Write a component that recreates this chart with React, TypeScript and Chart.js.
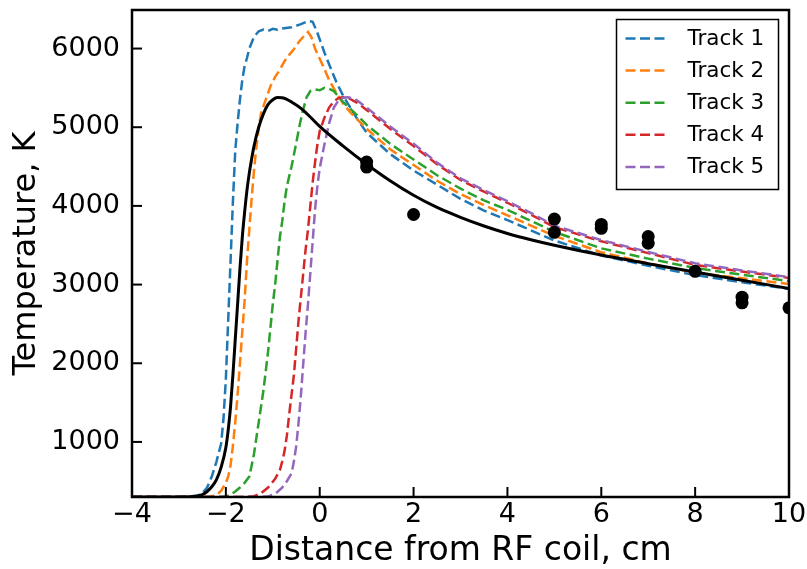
import React, { useEffect, useRef } from 'react';
import { Chart, registerables } from 'chart.js';

Chart.register(...registerables);

const X_TICKS = [-4, -2, 0, 2, 4, 6, 8, 10];
const Y_TICKS = [1000, 2000, 3000, 4000, 5000, 6000];

// Model (solid black line)
const modelX = [-4, -3, -2.7, -2.5, -2.4, -2.3, -2.2, -2.1, -2.0, -1.95, -1.9, -1.85, -1.8, -1.75, -1.7, -1.65, -1.6, -1.55, -1.5, -1.45, -1.4, -1.3, -1.2, -1.1, -1.0, -0.9, -0.8, -0.7, -0.6, -0.4, -0.2, 0, 0.5, 1.0, 1.5, 2.0, 2.5, 3.0, 3.5, 4.0, 4.5, 5.0, 6.0, 7.0, 8.0, 9.0, 10];
const modelY = [300, 301, 305, 330, 370, 430, 520, 680, 930, 1150, 1450, 1850, 2300, 2750, 3200, 3600, 3920, 4200, 4420, 4600, 4760, 5000, 5170, 5290, 5350, 5378, 5375, 5355, 5320, 5240, 5130, 5010, 4760, 4530, 4320, 4135, 3980, 3855, 3745, 3650, 3570, 3500, 3375, 3265, 3160, 3055, 2950];

const track1X = [-4, -3, -2.8, -2.6, -2.5, -2.4, -2.3, -2.2, -2.1, -2.05, -2.0, -1.95, -1.9, -1.85, -1.8, -1.75, -1.7, -1.65, -1.6, -1.55, -1.5, -1.4, -1.3, -1.2, -1.1, -1.0, -0.9, -0.8, -0.6, -0.4, -0.25, -0.15, -0.05, 0.1, 0.2, 0.35, 0.5, 0.75, 1.0, 1.5, 2.0, 2.5, 3.0, 3.5, 4.0, 4.5, 5.0, 6.0, 7.0, 8.0, 9.0, 10];
const track1Y = [300, 300, 305, 320, 350, 420, 560, 750, 980, 1300, 1800, 2550, 3300, 4050, 4700, 5050, 5350, 5600, 5780, 5880, 6000, 6150, 6220, 6240, 6225, 6250, 6240, 6255, 6270, 6310, 6350, 6340, 6200, 5950, 5800, 5580, 5400, 5150, 4930, 4660, 4450, 4270, 4090, 3940, 3820, 3690, 3560, 3370, 3240, 3120, 3030, 2945];

const track2X = [-4, -2.5, -2.35, -2.2, -2.1, -2.0, -1.95, -1.9, -1.85, -1.8, -1.75, -1.7, -1.65, -1.6, -1.55, -1.5, -1.45, -1.4, -1.35, -1.3, -1.25, -1.15, -1.05, -0.95, -0.85, -0.75, -0.65, -0.55, -0.45, -0.35, -0.25, -0.18, -0.1, 0.0, 0.1, 0.2, 0.35, 0.5, 0.65, 1.0, 1.5, 2.0, 2.5, 3.0, 3.5, 4.0, 4.5, 5.0, 6.0, 7.0, 8.0, 9.0, 10];
const track2Y = [300, 300, 305, 320, 380, 480, 560, 700, 950, 1250, 1600, 2000, 2400, 2800, 3300, 3700, 4100, 4450, 4750, 4980, 5180, 5350, 5520, 5640, 5730, 5840, 5920, 5990, 6080, 6150, 6210, 6150, 6000, 5870, 5740, 5600, 5440, 5300, 5190, 4980, 4720, 4520, 4320, 4150, 4010, 3880, 3750, 3620, 3410, 3270, 3150, 3080, 3008];

const track3X = [-4, -2.2, -2.0, -1.9, -1.8, -1.7, -1.6, -1.5, -1.45, -1.4, -1.35, -1.3, -1.25, -1.2, -1.15, -1.1, -1.05, -1.0, -0.95, -0.9, -0.85, -0.8, -0.75, -0.7, -0.6, -0.5, -0.42, -0.35, -0.28, -0.2, -0.1, 0.0, 0.1, 0.2, 0.3, 0.5, 0.75, 1.0, 1.5, 2.0, 2.5, 3.0, 3.5, 4.0, 4.5, 5.0, 6.0, 7.0, 8.0, 9.0, 10];
const track3Y = [300, 300, 305, 330, 370, 420, 480, 560, 700, 850, 1050, 1250, 1450, 1650, 1900, 2150, 2450, 2750, 3000, 3300, 3600, 3800, 4050, 4250, 4500, 4800, 5050, 5230, 5380, 5460, 5480, 5470, 5500, 5490, 5460, 5320, 5180, 5030, 4790, 4590, 4390, 4220, 4070, 3950, 3810, 3670, 3460, 3330, 3210, 3125, 3045];

const track4X = [-4, -1.6, -1.4, -1.27, -1.1, -0.95, -0.85, -0.8, -0.75, -0.7, -0.65, -0.6, -0.55, -0.5, -0.45, -0.4, -0.35, -0.3, -0.25, -0.2, -0.15, -0.1, -0.05, 0.0, 0.1, 0.2, 0.3, 0.4, 0.5, 0.6, 0.8, 1.0, 1.5, 2.0, 2.5, 3.0, 3.5, 4.0, 4.5, 5.0, 6.0, 7.0, 8.0, 9.0, 10];
const track4Y = [300, 300, 310, 340, 420, 530, 640, 750, 880, 1080, 1350, 1600, 1850, 2200, 2550, 2850, 3150, 3450, 3700, 4000, 4300, 4550, 4780, 4950, 5120, 5250, 5330, 5370, 5385, 5375, 5310, 5220, 4980, 4760, 4530, 4330, 4180, 4040, 3890, 3730, 3550, 3400, 3250, 3165, 3085];

const track5X = [-4, -1.3, -1.1, -0.95, -0.8, -0.7, -0.6, -0.55, -0.5, -0.45, -0.4, -0.35, -0.3, -0.25, -0.2, -0.15, -0.1, -0.05, 0.0, 0.1, 0.2, 0.3, 0.4, 0.5, 0.6, 0.7, 0.8, 1.0, 1.5, 2.0, 2.5, 3.0, 3.5, 4.0, 4.5, 5.0, 6.0, 7.0, 8.0, 9.0, 10];
const track5Y = [300, 300, 305, 340, 420, 500, 600, 750, 950, 1250, 1600, 2000, 2400, 2750, 3150, 3550, 3950, 4250, 4480, 4780, 5050, 5250, 5340, 5375, 5380, 5370, 5340, 5250, 5010, 4790, 4550, 4350, 4200, 4060, 3910, 3750, 3565, 3415, 3270, 3180, 3095];

// Measured points (black dots)
const dotsX = [1, 1, 2, 5, 5, 6, 6, 7, 7, 8, 9, 9, 10];
const dotsY = [4557, 4494, 3891, 3832, 3664, 3765, 3715, 3610, 3525, 3168, 2840, 2768, 2705];

const TRACK_NAMES = ['Track 1', 'Track 2', 'Track 3', 'Track 4', 'Track 5'];
const TRACK_COLORS = ['#1f77b4', '#ff7f0e', '#2ca02c', '#d62728', '#9467bd'];
const TRACKS_X = [track1X, track2X, track3X, track4X, track5X];
const TRACKS_Y = [track1Y, track2Y, track3Y, track4Y, track5Y];

const FONT = "'DejaVu Sans', sans-serif";
const DASH = [10, 4.5];

const zip = (xs: number[], ys: number[]) => xs.map((x, i) => ({ x, y: ys[i] }));

const framePlugin = {
  id: 'frameTicks',
  afterDatasetsDraw(chart: any) {
    const { ctx, chartArea: a, scales } = chart;
    ctx.save();
    ctx.strokeStyle = '#000';
    ctx.lineWidth = 2;
    for (const v of X_TICKS) {
      const px = scales.x.getPixelForValue(v);
      ctx.beginPath();
      ctx.moveTo(px, a.bottom);
      ctx.lineTo(px, a.bottom - 10);
      ctx.stroke();
    }
    for (const v of Y_TICKS) {
      const py = scales.y.getPixelForValue(v);
      ctx.beginPath();
      ctx.moveTo(a.left, py);
      ctx.lineTo(a.left + 10, py);
      ctx.stroke();
    }
    ctx.lineWidth = 2.5;
    ctx.strokeRect(a.left, a.top, a.right - a.left, a.bottom - a.top);
    ctx.restore();
  },
};

const legendPlugin = {
  id: 'boxLegend',
  afterDraw(chart: any) {
    const { ctx, chartArea: a } = chart;
    const right = a.right - 10.5;
    const top = a.top + 9.5;
    const w = 162;
    const h = 170;
    const left = right - w;
    ctx.save();
    ctx.fillStyle = '#fff';
    ctx.fillRect(left, top, w, h);
    ctx.strokeStyle = '#000';
    ctx.lineWidth = 1.5;
    ctx.strokeRect(left, top, w, h);
    ctx.font = `21.5px ${FONT}`;
    ctx.textBaseline = 'middle';
    ctx.textAlign = 'left';
    TRACK_NAMES.forEach((name, i) => {
      const cy = top + 19 + i * 32.1;
      ctx.strokeStyle = TRACK_COLORS[i];
      ctx.lineWidth = 2.5;
      ctx.setLineDash(DASH);
      ctx.beginPath();
      ctx.moveTo(left + 9, cy);
      ctx.lineTo(left + 48.5, cy);
      ctx.stroke();
      ctx.setLineDash([]);
      ctx.fillStyle = '#000';
      ctx.fillText(name, left + 71, cy + 1);
    });
    ctx.restore();
  },
};

export default function App() {
  const ref = useRef<HTMLCanvasElement | null>(null);

  useEffect(() => {
    if (!ref.current) return;
    const datasets: any[] = [
      {
        label: 'Measured',
        data: zip(dotsX, dotsY),
        showLine: false,
        pointRadius: 6.5,
        pointBackgroundColor: '#000',
        pointBorderColor: '#000',
        pointBorderWidth: 0,
        clip: 0,
        order: 0,
      },
      {
        label: 'Model',
        data: zip(modelX, modelY),
        borderColor: '#000',
        borderWidth: 3,
        pointRadius: 0,
        cubicInterpolationMode: 'monotone',
        order: 1,
      },
    ];
    TRACK_NAMES.forEach((name, i) => {
      datasets.push({
        label: name,
        data: zip(TRACKS_X[i], TRACKS_Y[i]),
        borderColor: TRACK_COLORS[i],
        borderWidth: 2.5,
        borderDash: DASH,
        pointRadius: 0,
        tension: 0,
        order: 6 - i,
      });
    });

    const chart = new Chart(ref.current, {
      type: 'line',
      data: { datasets },
      plugins: [framePlugin, legendPlugin],
      options: {
        responsive: false,
        animation: false,
        devicePixelRatio: 1,
        layout: { padding: { top: 10, right: 18, left: 0, bottom: 0 } },
        plugins: { legend: { display: false }, tooltip: { enabled: false } },
        scales: {
          x: {
            type: 'linear',
            min: -4,
            max: 10,
            afterBuildTicks: (s: any) => { s.ticks = X_TICKS.map((v) => ({ value: v })); },
            afterFit: (s: any) => { s.height = 72; s.paddingLeft = 0; s.paddingRight = 0; },
            grid: { display: false, drawTicks: false },
            border: { display: false },
            ticks: {
              color: '#000',
              padding: 2,
              maxRotation: 0,
              font: { family: FONT, size: 27, lineHeight: 1.2 },
              callback: (v: any) => (v < 0 ? '\u2212' + Math.abs(v) : String(v)),
            },
            title: {
              display: true,
              text: 'Distance from RF coil, cm',
              color: '#000',
              font: { family: FONT, size: 33, lineHeight: 1 },
              padding: { top: 0, bottom: 1 },
            },
          },
          y: {
            type: 'linear',
            min: 300,
            max: 6490,
            afterBuildTicks: (s: any) => { s.ticks = Y_TICKS.map((v) => ({ value: v })); },
            afterFit: (s: any) => { s.width = 132; s.paddingTop = 0; s.paddingBottom = 0; },
            grid: { display: false, drawTicks: false },
            border: { display: false },
            ticks: {
              color: '#000',
              padding: 12,
              font: { family: FONT, size: 27, lineHeight: 1.2 },
              callback: (v: any) => String(v),
            },
            title: {
              display: true,
              text: 'Temperature, K',
              color: '#000',
              font: { family: FONT, size: 32, lineHeight: 1 },
              padding: { top: 11, bottom: 0 },
            },
          },
        },
      },
    });
    return () => chart.destroy();
  }, []);

  return (
    <div style={{ position: 'fixed', left: 0, top: 0, width: 807, height: 569, background: '#fff' }}>
      <canvas ref={ref} width={807} height={569} style={{ display: 'block' }} />
    </div>
  );
}
